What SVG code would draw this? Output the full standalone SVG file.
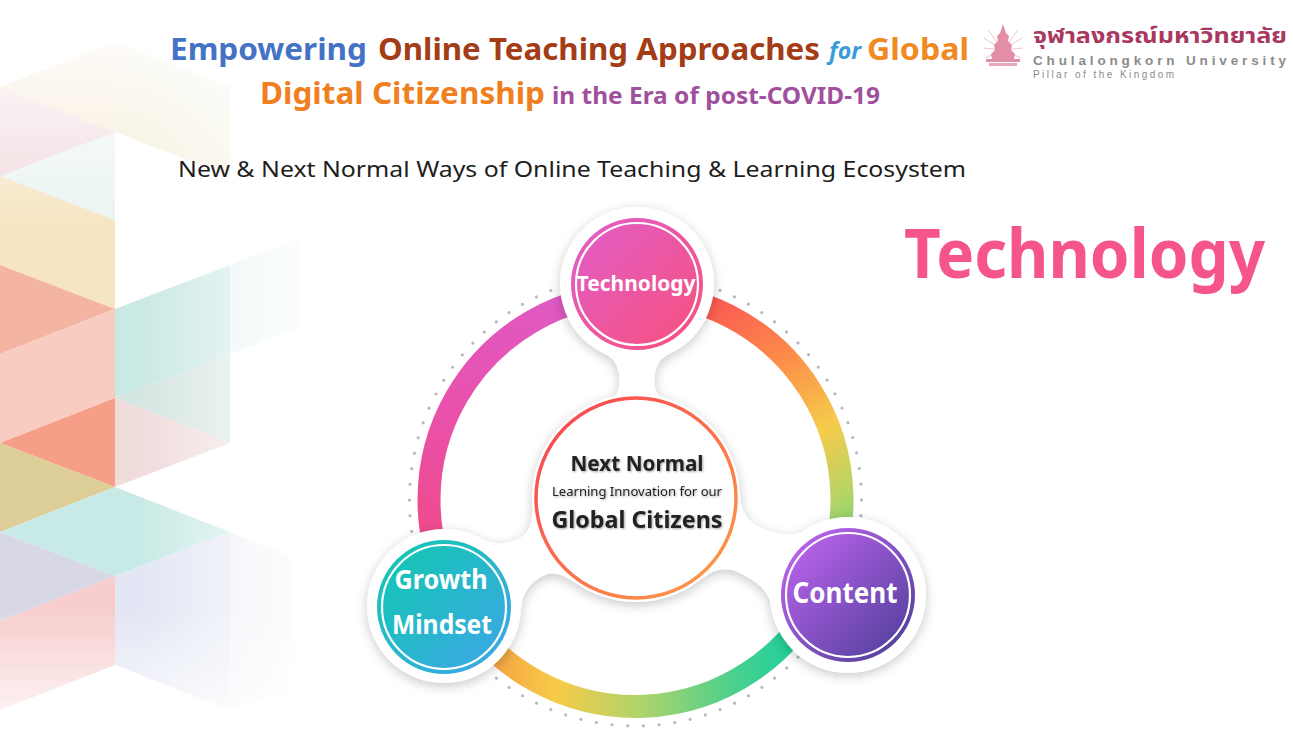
<svg xmlns="http://www.w3.org/2000/svg" width="1293" height="740" viewBox="0 0 1293 740">
  <defs>
    <style>
      .ttl { font-family: "Noto Sans", "Liberation Sans", sans-serif; font-weight: 700; }
      .sub { font-family: "Noto Sans", "Liberation Sans", sans-serif; font-weight: 400; }
      .lbl { font-family: "Noto Sans", "Liberation Sans", sans-serif; font-weight: 700; fill: #ffffff; text-anchor: middle; }
      .ctr { font-family: "Noto Sans", "Liberation Sans", sans-serif; fill: #222222; text-anchor: middle; }
      .halo { fill: #ffffff; }
      .ring { fill: none; stroke-width: 23; }
      .inner { fill: none; stroke: #ffffff; stroke-width: 2.2; }
      .cube { stroke: none; }
    </style>

    <!-- soft grey shadow for the white raised shapes -->
    <filter id="raise" x="-15%" y="-15%" width="130%" height="130%">
      <feGaussianBlur in="SourceAlpha" stdDeviation="6"/>
      <feOffset dx="0" dy="3" result="b"/>
      <feComponentTransfer><feFuncA type="linear" slope="0.22"/></feComponentTransfer>
      <feMerge><feMergeNode/><feMergeNode in="SourceGraphic"/></feMerge>
    </filter>
    <filter id="txtGlow" x="-10%" y="-30%" width="120%" height="160%">
      <feGaussianBlur in="SourceAlpha" stdDeviation="1.2"/>
      <feOffset dx="1" dy="1"/>
      <feComponentTransfer><feFuncA type="linear" slope="0.35"/></feComponentTransfer>
      <feMerge><feMergeNode/><feMergeNode in="SourceGraphic"/></feMerge>
    </filter>

    <!-- ring segment gradients -->
    <linearGradient id="ringL" gradientUnits="userSpaceOnUse" x1="450" y1="600" x2="610" y2="290">
      <stop offset="0" stop-color="#f14a80"/>
      <stop offset="0.5" stop-color="#e951ad"/>
      <stop offset="1" stop-color="#dc5bc8"/>
    </linearGradient>
    <linearGradient id="ringR" gradientUnits="userSpaceOnUse" x1="660" y1="290" x2="835" y2="580">
      <stop offset="0" stop-color="#fa4456"/>
      <stop offset="0.35" stop-color="#fc8a4a"/>
      <stop offset="0.6" stop-color="#f6cb4b"/>
      <stop offset="0.8" stop-color="#b5d466"/>
      <stop offset="1" stop-color="#55cf7e"/>
    </linearGradient>
    <linearGradient id="ringB" gradientUnits="userSpaceOnUse" x1="470" y1="620" x2="815" y2="620">
      <stop offset="0" stop-color="#f4963f"/>
      <stop offset="0.25" stop-color="#f7cb48"/>
      <stop offset="0.5" stop-color="#acd46c"/>
      <stop offset="0.78" stop-color="#45d08f"/>
      <stop offset="1" stop-color="#12cf9f"/>
    </linearGradient>

    <!-- node fills -->
    <linearGradient id="gTech" x1="0" y1="0" x2="1" y2="1">
      <stop offset="0" stop-color="#e05ecb"/>
      <stop offset="1" stop-color="#f8507a"/>
    </linearGradient>
    <linearGradient id="gGrow" x1="0" y1="0" x2="1" y2="1">
      <stop offset="0" stop-color="#0fcaae"/>
      <stop offset="1" stop-color="#40a4ea"/>
    </linearGradient>
    <linearGradient id="gCont" x1="0" y1="0" x2="1" y2="1">
      <stop offset="0" stop-color="#c867f5"/>
      <stop offset="1" stop-color="#463c94"/>
    </linearGradient>
    <linearGradient id="gCore" x1="0" y1="0" x2="1" y2="1">
      <stop offset="0" stop-color="#f93e52"/>
      <stop offset="1" stop-color="#fda047"/>
    </linearGradient>

    <!-- white veil that fades the cube panel -->
    <linearGradient id="veilX" gradientUnits="userSpaceOnUse" x1="140" y1="0" x2="320" y2="0">
      <stop offset="0" stop-color="#ffffff" stop-opacity="0"/>
      <stop offset="1" stop-color="#ffffff" stop-opacity="1"/>
    </linearGradient>
    <linearGradient id="veilB" gradientUnits="userSpaceOnUse" x1="0" y1="610" x2="0" y2="740">
      <stop offset="0" stop-color="#ffffff" stop-opacity="0"/>
      <stop offset="1" stop-color="#ffffff" stop-opacity="0.95"/>
    </linearGradient>
    <linearGradient id="veilT" gradientUnits="userSpaceOnUse" x1="0" y1="20" x2="0" y2="230">
      <stop offset="0" stop-color="#ffffff" stop-opacity="0.95"/>
      <stop offset="1" stop-color="#ffffff" stop-opacity="0"/>
    </linearGradient>
  </defs>

  <rect x="0" y="0" width="1293" height="740" fill="#ffffff"/>

  <!-- decorative isometric cube panel -->
  <g id="cube-panel" opacity="0.82">
    <polygon class="cube" points="0,87 115,42 115,132" fill="#f6e6cc"/>
    <polygon class="cube" points="0,87 115,132 115,220 0,176" fill="#eed3d8"/>
    <polygon class="cube" points="115,42 230,87 230,176 115,132" fill="#f1ead0"/>
    <polygon class="cube" points="0,176 115,132 115,220" fill="#e6f3f0"/>
    <polygon class="cube" points="0,176 115,220 115,309 0,265" fill="#f5e0b6"/>
    <polygon class="cube" points="0,265 115,309 0,354" fill="#f1a68e"/>
    <polygon class="cube" points="0,354 115,309 115,398 0,443" fill="#f7c1b3"/>
    <polygon class="cube" points="115,309 230,265 230,354 115,398" fill="#bfe4df"/>
    <polygon class="cube" points="230,265 300,238 300,327 230,354" fill="#e2f3f1"/>
    <polygon class="cube" points="0,443 115,398 115,487" fill="#f48a6e"/>
    <polygon class="cube" points="115,398 230,354 230,443" fill="#cde0dc"/>
    <polygon class="cube" points="115,398 230,443 115,487" fill="#eed5d5"/>
    <polygon class="cube" points="0,443 115,487 0,532" fill="#d5c47f"/>
    <polygon class="cube" points="0,532 115,487 230,532 115,576" fill="#bde6e1"/>
    <polygon class="cube" points="0,532 115,576 0,621" fill="#cfcfe0"/>
    <polygon class="cube" points="0,621 115,576 115,665 0,710" fill="#f6c3c3"/>
    <polygon class="cube" points="115,576 230,532 230,710 115,665" fill="#dde1f2"/>
    <polygon class="cube" points="230,532 290,556 290,690 230,710" fill="#eceef8"/>
    <rect x="0" y="0" width="360" height="740" fill="url(#veilX)"/>
    <rect x="0" y="0" width="360" height="740" fill="url(#veilB)"/>
    <rect x="0" y="0" width="360" height="230" fill="url(#veilT)"/>
  </g>

  <!-- title -->
  <g id="title">
    <text class="ttl" x="170" y="60" font-size="31" fill="#4472c4" textLength="197" lengthAdjust="spacingAndGlyphs">Empowering</text>
    <text class="ttl" x="378" y="60" font-size="31" fill="#a33d16" textLength="442" lengthAdjust="spacingAndGlyphs">Online Teaching Approaches</text>
    <text class="ttl" x="829" y="59" font-size="23" font-style="italic" fill="#3b9bd6" textLength="32" lengthAdjust="spacingAndGlyphs">for</text>
    <text class="ttl" x="867" y="60" font-size="31" fill="#ef8a24" textLength="102" lengthAdjust="spacingAndGlyphs">Global</text>
    <text class="ttl" x="260" y="104" font-size="31" fill="#f0801f" textLength="285" lengthAdjust="spacingAndGlyphs">Digital Citizenship</text>
    <text class="ttl" x="552" y="104" font-size="23" fill="#a04f9c" textLength="328" lengthAdjust="spacingAndGlyphs">in the Era of post-COVID-19</text>
  </g>

  <!-- university logo -->
  <g id="logo">
    <g stroke="#f0c3cf" stroke-width="1" fill="none">
      <line x1="1003" y1="50" x2="984" y2="38"/>
      <line x1="1003" y1="50" x2="983" y2="48"/>
      <line x1="1003" y1="50" x2="985" y2="58"/>
      <line x1="1003" y1="50" x2="988" y2="30"/>
      <line x1="1003" y1="50" x2="1022" y2="38"/>
      <line x1="1003" y1="50" x2="1023" y2="48"/>
      <line x1="1003" y1="50" x2="1021" y2="58"/>
      <line x1="1003" y1="50" x2="1018" y2="30"/>
    </g>
    <path d="M1003,24 L1006,33 L1009,36 L1008,41 L1012,45 L1011,50 L1015,54 L1014,59 L992,59 L991,54 L995,50 L994,45 L998,41 L997,36 L1000,33 Z" fill="#e38ea7"/>
    <rect x="986" y="59" width="34" height="3" fill="#e38ea7"/>
    <rect x="989" y="63" width="28" height="3" fill="#eaa6b9"/>
    <text x="1033" y="43" font-family="'Noto Sans Thai', 'Noto Sans', 'DejaVu Sans', sans-serif" font-weight="700" font-size="22" fill="#a8385f" textLength="254" lengthAdjust="spacingAndGlyphs">จุฬาลงกรณ์มหาวิทยาลัย</text>
    <text x="1033" y="65" font-family="'Liberation Sans', Arial, sans-serif" font-weight="700" font-size="13.5" fill="#8b8b8b" textLength="253" lengthAdjust="spacing">Chulalongkorn University</text>
    <text x="1033" y="78" font-family="'Liberation Sans', Arial, sans-serif" font-size="10" fill="#8b8b8b" textLength="141" lengthAdjust="spacing">Pillar of the Kingdom</text>
  </g>

  <!-- subtitle -->
  <text id="subtitle" class="sub" x="178" y="177" font-size="22" fill="#1e1e1e" textLength="788" lengthAdjust="spacingAndGlyphs">New &amp; Next Normal Ways of Online Teaching &amp; Learning Ecosystem</text>

  <!-- big heading on the right -->
  <text id="heading" class="ttl" x="904" y="278" font-size="68" fill="#f5558a" textLength="361" lengthAdjust="spacingAndGlyphs">Technology</text>

  <!-- connectors: dotted orbit, gradient ring arcs and white necks -->
  <g id="connectors">
    <circle cx="635.5" cy="500" r="226" fill="none" stroke="#b7b7c0" stroke-width="3.2" stroke-linecap="round" stroke-dasharray="0 15.77"/>
    <path class="ring" stroke="url(#ringL)" d="M456.7,603.3 A206.5,206.5 0 0 1 635.5,293.5"/>
    <path class="ring" stroke="url(#ringR)" d="M635.5,293.5 A206.5,206.5 0 0 1 822.6,587.3"/>
    <path class="ring" stroke="url(#ringB)" d="M822.6,587.3 A206.5,206.5 0 0 1 456.7,603.3"/>

    <g id="plates" filter="url(#raise)">
      <circle class="halo" cx="636" cy="498" r="104"/>
      <path class="halo" transform="translate(637,284) rotate(90)" d="M69.8,-32.5 Q76.8,-17.5 96,-17.5 Q111.2,-17.5 113.1,-25.2 L214,0 L113.1,25.2 Q111.2,17.5 96,17.5 Q76.8,17.5 69.8,32.5 Z"/>
      <path class="halo" transform="translate(444,606) rotate(-29.36)" d="M65.3,-40.8 Q77.1,-22 100,-22 Q115.5,-22 125.7,-43.95 L220,0 L125.7,43.95 Q115.5,22 100,22 Q77.1,22 65.3,40.8 Z"/>
      <path class="halo" transform="translate(848,595) rotate(-155.4)" d="M63.8,-43.1 Q76,-25 108,-25 Q129.5,-25 139.5,-45.6 L233,0 L139.5,45.6 Q129.5,25 108,25 Q76,25 63.8,43.1 Z"/>
      <circle class="halo" cx="637" cy="284" r="77"/>
      <circle class="halo" cx="444" cy="606" r="77"/>
      <circle class="halo" cx="848" cy="595" r="78"/>
    </g>
  </g>

  <!-- centre hub -->
  <g id="hub">
    <circle cx="636" cy="498" r="100" fill="#ffffff" stroke="url(#gCore)" stroke-width="3.5"/>
    <g filter="url(#txtGlow)">
      <text class="ctr" x="637" y="471" font-size="21" font-weight="700" textLength="133" lengthAdjust="spacingAndGlyphs">Next Normal</text>
      <text class="ctr" x="637" y="496" font-size="12.5" textLength="170" lengthAdjust="spacingAndGlyphs">Learning Innovation for our</text>
      <text class="ctr" x="637" y="528" font-size="24" font-weight="700" textLength="171" lengthAdjust="spacingAndGlyphs">Global Citizens</text>
    </g>
  </g>

  <!-- outer nodes -->
  <g id="node-technology">
    <circle cx="637" cy="284" r="66" fill="url(#gTech)"/>
    <circle class="inner" cx="637" cy="284" r="61"/>
    <text class="lbl" x="636" y="291" font-size="21" textLength="119" lengthAdjust="spacingAndGlyphs">Technology</text>
  </g>
  <g id="node-growth">
    <circle cx="444" cy="607" r="67" fill="url(#gGrow)"/>
    <circle class="inner" cx="444" cy="607" r="62"/>
    <text class="lbl" x="441" y="589" font-size="26" textLength="93" lengthAdjust="spacingAndGlyphs">Growth</text>
    <text class="lbl" x="442" y="634" font-size="26" textLength="100" lengthAdjust="spacingAndGlyphs">Mindset</text>
  </g>
  <g id="node-content">
    <circle cx="848" cy="595" r="67" fill="url(#gCont)"/>
    <circle class="inner" cx="848" cy="595" r="62"/>
    <text class="lbl" x="845" y="603" font-size="28" textLength="105" lengthAdjust="spacingAndGlyphs">Content</text>
  </g>
</svg>
